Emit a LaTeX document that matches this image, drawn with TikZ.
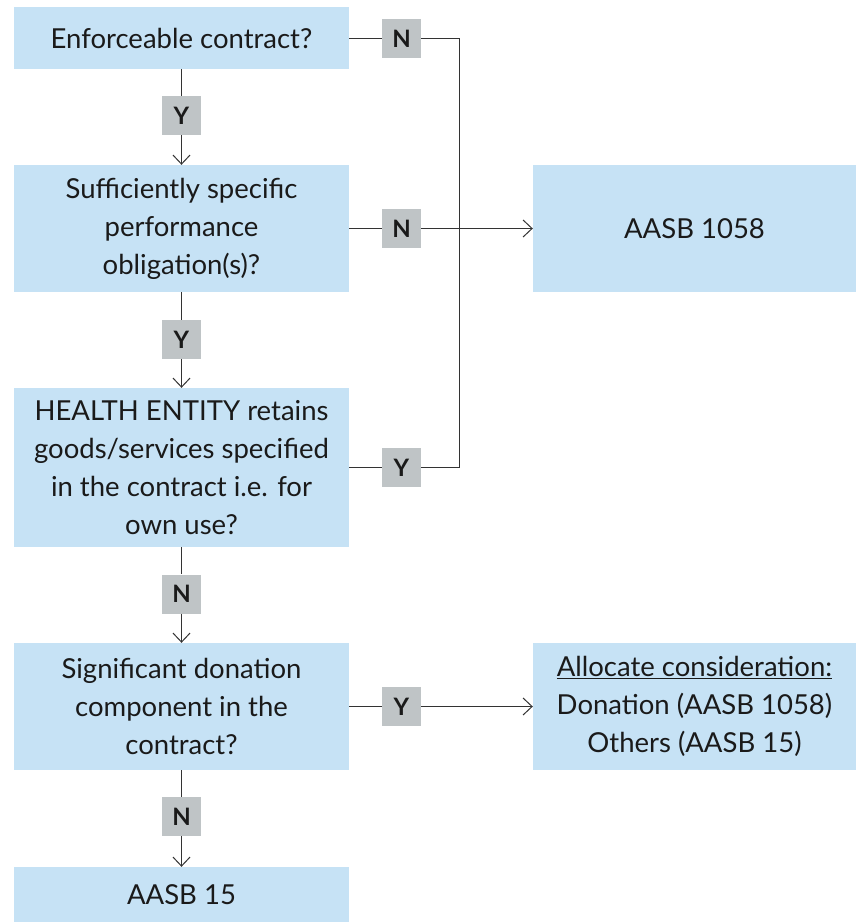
\documentclass[tikz,border=0pt]{standalone}
\usepackage{fontspec}
\setmainfont{Lato}
\usetikzlibrary{arrows.meta}
\definecolor{boxblue}{HTML}{C6E2F5}
\definecolor{lblgray}{HTML}{BFC4C6}
\definecolor{txt}{HTML}{1A1A1A}
\definecolor{ln}{HTML}{333333}
\tikzset{
  flowbox/.style={rectangle, fill=boxblue, draw=none, align=center, text=txt,
    font=\fontsize{27.5}{38}\selectfont, inner sep=0pt},
  lbl/.style={rectangle, fill=lblgray, draw=none, text=txt, minimum width=39pt,
    minimum height=39pt, inner sep=0pt, font=\fontsize{24}{28}\selectfont\bfseries},
  conn/.style={draw=ln, line width=1pt},
  arr/.style={conn, -{Straight Barb[length=9pt,width=17pt,line width=1pt]}}
}
\begin{document}
\begin{tikzpicture}[x=1pt,y=-1pt]
\useasboundingbox (0,0) rectangle (856,922);
\node[flowbox, minimum width=335pt, minimum height=62pt] (b1) at (181.5,38) {Enforceable contract?};
\node[flowbox, minimum width=335pt, minimum height=127pt] (b2) at (181.5,228.5) {Sufficiently specific\\performance\\obligation(s)?};
\node[flowbox, minimum width=335pt, minimum height=159pt] (b3) at (181.5,467.5) {HEALTH ENTITY retains\\goods/services specified\\in the contract i.e. for\\own use?};
\node[flowbox, minimum width=335pt, minimum height=127pt] (b4) at (181.5,706.5) {Significant donation\\component in the\\contract?};
\node[flowbox, minimum width=335pt, minimum height=55pt] (b5) at (181.5,894.5) {AASB 15};
\node[flowbox, minimum width=323pt, minimum height=127pt] (r1) at (694.5,228.5) {AASB 1058};
\node[flowbox, minimum width=323pt, minimum height=127pt] (r2) at (694.5,706.5) {\underline{Allocate consideration:}\\Donation (AASB 1058)\\Others (AASB 15)};
\node[lbl] (y1) at (181.5,115.5) {Y};
\node[lbl] (n1) at (401.5,38.5) {N};
\node[lbl] (n2) at (401.5,228.5) {N};
\node[lbl] (y2) at (181.5,339.5) {Y};
\node[lbl] (y3) at (401.5,467.5) {Y};
\node[lbl] (n3) at (181.5,594) {N};
\node[lbl] (y4) at (401.5,706.5) {Y};
\node[lbl] (n4) at (181.5,816.5) {N};
\coordinate (jt) at (459,38.5);
\coordinate (jb) at (459,467.5);
\draw[conn] (b1) -- (y1);
\draw[arr] (y1) -- (b2);
\draw[conn] (b2) -- (y2);
\draw[arr] (y2) -- (b3);
\draw[conn] (b3) -- (n3);
\draw[arr] (n3) -- (b4);
\draw[conn] (b4) -- (n4);
\draw[arr] (n4) -- (b5);
\draw[conn] (b1.east |- n1) -- (n1.west);
\draw[conn] (b2.east |- n2) -- (n2.west);
\draw[conn] (b3.east |- y3) -- (y3.west);
\draw[conn] (b4.east |- y4) -- (y4.west);
\draw[conn] (n1.east) -- (jt) -- (jb) -- (y3.east);
\draw[arr] (n2.east) -- (r1.west);
\draw[arr] (y4.east) -- (r2.west);
\end{tikzpicture}
\end{document}
